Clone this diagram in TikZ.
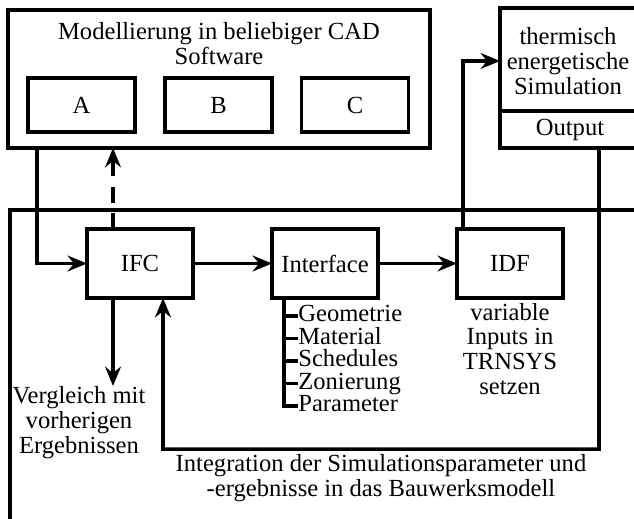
\documentclass[tikz,border=0pt]{standalone}
\usepackage{fontspec}
\setmainfont{Liberation Serif}
\usepackage{tikz}
\usetikzlibrary{arrows.meta, positioning}
\tikzset{>={Stealth[length=11pt,width=9pt]}}
\tikzset{
  line/.style = {line width=2pt},
  frame/.style = {draw, line width=2pt, inner sep=0pt, outer sep=0pt},
  arr/.style = {line, ->},
  txt/.style = {align=center, inner sep=0pt}
}

\begin{document}
\begin{tikzpicture}[x=0.02cm, y=-0.02cm, font=\fontsize{14}{14.2}\selectfont]
\clip (0,0) rectangle (634,518);
% CAD block
\node[frame, minimum width=8.44cm, minimum height=2.76cm] (cad) at (219,79) {};
\node[txt] (cadtitle) at (219,44) {Modellierung in beliebiger CAD\\Software};
\node[frame, minimum width=2.14cm, minimum height=1.08cm] (a) at (81.5,105) {A};
\node[frame, minimum width=2.14cm, minimum height=1.08cm] (b) at (218.5,105) {B};
\node[frame, minimum width=2.14cm, minimum height=1.08cm] (c) at (355,105) {C};

% simulation
\node[frame, anchor=north west, minimum width=2.8cm, minimum height=2.06cm] (sim) at (500,8) {};
\node[txt] (simtext) at (568,61) {thermisch\\energetische\\Simulation};
\node[frame, anchor=north west, minimum width=2.8cm, minimum height=0.74cm] (out) at (sim.south west) {Output};

% lower frame
\draw[line] (660,210) -| (10,540);

\node[frame, minimum width=2.12cm, minimum height=1.38cm] (ifc) at (140,263.5) {IFC};
\node[frame, minimum width=2.12cm, minimum height=1.38cm] (iface) at (325,263.5) {Interface};
\node[frame, minimum width=2.12cm, minimum height=1.38cm] (idf) at (510,263.5) {IDF};

\node[txt] (idftext) at (510,349) {variable\\Inputs in\\TRNSYS\\setzen};
\node[txt, anchor=north] (vgl) at (79,386) {Vergleich mit\\vorherigen\\Ergebnissen};
\node[txt] (integ) at (381,478) {Integration der Simulationsparameter und\\-ergebnisse in das Bauwerksmodell};

% parameter list
\coordinate (stem) at (284,298);
\foreach \item [count=\i] in {Geometrie,Material,Schedules,Zonierung,Parameter}
  \node[txt, anchor=west, text height=9pt, text depth=2.5pt] (par\i) at (298,293.5+22.5*\i) {\item};
\draw[line] (stem) |- (par5.west);
\foreach \i in {1,...,4}
  \draw[line] (par\i.west -| stem) -- (par\i.west);

% connectors
\coordinate (cadout) at (37,148);
\draw[arr] (cadout) |- (ifc.west);
\draw[arr, dashed, dash pattern=on 9pt off 6pt] ([xshift=-0.54cm]ifc.north) -- ([xshift=-0.54cm]ifc.north |- cad.south);
\draw[arr] (ifc.east) -- (iface.west);
\draw[arr] (iface.east) -- (idf.west);
\draw[arr] ([xshift=-0.94cm]idf.north) |- ([yshift=-1.06cm]sim.north west);
\draw[arr] ([xshift=-0.54cm]ifc.south) -- ([xshift=-0.54cm]ifc.south |- vgl.north);
\coordinate (loop) at (163,449);
\draw[arr] ([xshift=0.58cm]out.south) |- (loop) -- ([xshift=0.46cm]ifc.south);
\end{tikzpicture}
\end{document}
